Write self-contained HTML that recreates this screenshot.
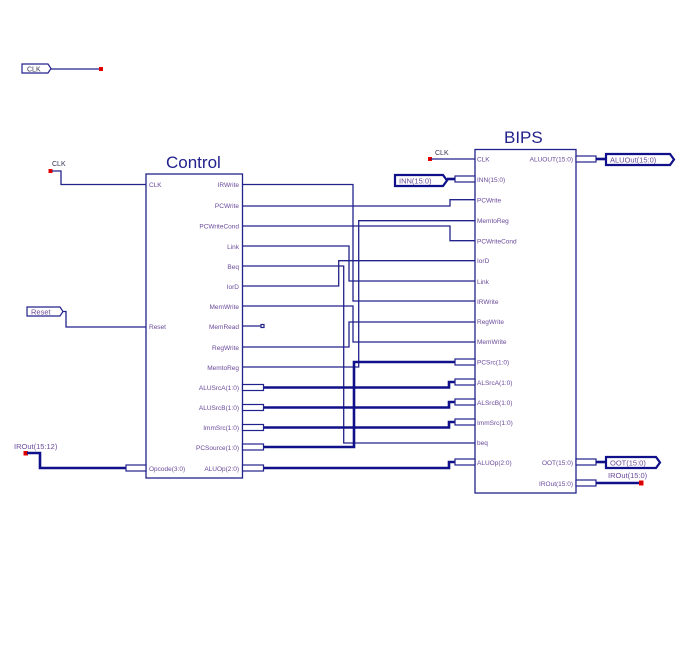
<!DOCTYPE html>
<html><head><style>
html,body{margin:0;padding:0;background:#fff;}
svg{display:block;}
text{font-family:"Liberation Sans",sans-serif;}
.p{font-size:6.5px;fill:#6a4a9a;}
.w{stroke:#22228c;stroke-width:1.3;fill:none;}
.b{stroke:#10108a;stroke-width:2.6;fill:none;}
.st{stroke:#22228c;stroke-width:1.2;fill:#fff;}
</style></head><body>
<svg width="692" height="651" viewBox="0 0 692 651" xmlns="http://www.w3.org/2000/svg">
<!-- top-left CLK -->
<path d="M22 64 H48 L51 68.5 L48 73 H22 Z" class="st" stroke-width="1.5"/>
<text x="27" y="71.5" class="p" style="font-size:7px;fill:#335">CLK</text>
<path d="M51 69 H101" class="w"/>
<rect x="99.5" y="67.5" width="3" height="3" fill="#c00" stroke="#e00" stroke-width="1"/>

<!-- Control -->
<text x="166" y="168" style="font-size:17px;fill:#22228c">Control</text>
<rect x="146" y="174" width="96.5" height="304" fill="#fff" stroke="#22228c" stroke-width="1.3"/>
<text x="149" y="187" class="p">CLK</text>
<text x="149" y="329" class="p">Reset</text>
<text x="149" y="471" class="p">Opcode(3:0)</text>
<g class="p" text-anchor="end">
<text x="239" y="187">IRWrite</text>
<text x="239" y="208">PCWrite</text>
<text x="239" y="228.5">PCWriteCond</text>
<text x="239" y="249">Link</text>
<text x="239" y="269">Beq</text>
<text x="239" y="289">IorD</text>
<text x="239" y="309">MemWrite</text>
<text x="239" y="329">MemRead</text>
<text x="239" y="350">RegWrite</text>
<text x="239" y="370">MemtoReg</text>
<text x="239" y="390">ALUSrcA(1:0)</text>
<text x="239" y="410">ALUSrcB(1:0)</text>
<text x="239" y="430">ImmSrc(1:0)</text>
<text x="239" y="450">PCSource(1:0)</text>
<text x="239" y="471">ALUOp(2:0)</text>
</g>

<!-- Control CLK -->
<text x="52" y="166" class="p" style="font-size:7px;fill:#335">CLK</text>
<rect x="49" y="169.5" width="3" height="3" fill="#c00" stroke="#e00" stroke-width="1"/>
<path d="M52 171 H61 V184.5 H146" class="w"/>
<!-- Reset -->
<path d="M27 307 H60 L63 311.5 L60 316 H27 Z" class="st" stroke-width="1.5"/>
<text x="31" y="314.5" class="p" style="font-size:7.5px;fill:#6a4a9a">Reset</text>
<path d="M63 311.5 H66 V327 H146" class="w"/>
<!-- IROut(15:12) -->
<text x="14" y="449" class="p" style="font-size:7.5px">IROut(15:12)</text>
<rect x="24" y="451.5" width="3.5" height="3.5" fill="#c00" stroke="#e00" stroke-width="1"/>
<path d="M27 453 H40 V468 H126" class="b"/>
<rect x="126" y="465" width="20" height="6" class="st"/>

<!-- Control output single wires -->
<path d="M242.5 184.5 H353 V301 H475" class="w"/>
<path d="M242.5 206 H450 V199.7 H475" class="w"/>
<path d="M242.5 226 H450 V240.7 H475" class="w"/>
<path d="M242.5 246 H349 V281 H475" class="w"/>
<path d="M242.5 266 H343.7 V443 H475" class="w"/>
<path d="M242.5 286 H338.7 V260.7 H475" class="w"/>
<path d="M242.5 306 H353 V342 H475" class="w"/>
<path d="M242.5 326 H263" class="w"/>
<rect x="261" y="324.5" width="3" height="3" fill="#fff" stroke="#22228c" stroke-width="1.2"/>
<path d="M242.5 347 H349 V322 H475" class="w"/>
<path d="M242.5 367 H358.7 V220.7 H475" class="w"/>
<!-- buses -->
<path d="M264 447 H354 V362 H455" class="b"/>
<path d="M264 387.5 H449 V382 H455" class="b"/>
<path d="M264 407.5 H449 V402 H455" class="b"/>
<path d="M264 427.5 H449 V422 H455" class="b"/>
<path d="M264 468 H449 V462 H455" class="b"/>
<g class="st">
<rect x="242.5" y="384.5" width="21" height="6"/>
<rect x="242.5" y="404.5" width="21" height="6"/>
<rect x="242.5" y="424.5" width="21" height="6"/>
<rect x="242.5" y="444" width="21" height="6"/>
<rect x="242.5" y="465" width="21" height="6"/>
</g>

<!-- BIPS -->
<text x="504" y="143" style="font-size:17px;fill:#22228c">BIPS</text>
<rect x="475" y="149.5" width="101" height="343.5" fill="#fff" stroke="#22228c" stroke-width="1.3"/>
<g class="p">
<text x="477" y="161.5">CLK</text>
<text x="477" y="182">INN(15:0)</text>
<text x="477" y="202.5">PCWrite</text>
<text x="477" y="223">MemtoReg</text>
<text x="477" y="243.5">PCWriteCond</text>
<text x="477" y="263">IorD</text>
<text x="477" y="284">Link</text>
<text x="477" y="304">IRWrite</text>
<text x="477" y="324">RegWrite</text>
<text x="477" y="344">MemWrite</text>
<text x="477" y="364.5">PCSrc(1:0)</text>
<text x="477" y="385">ALSrcA(1:0)</text>
<text x="477" y="405">ALSrcB(1:0)</text>
<text x="477" y="425">ImmSrc(1:0)</text>
<text x="477" y="445">beq</text>
<text x="477" y="465">ALUOp(2:0)</text>
</g>
<g class="p" text-anchor="end">
<text x="573" y="161.5">ALUOUT(15:0)</text>
<text x="573" y="465">OOT(15:0)</text>
<text x="573" y="486">IROut(15:0)</text>
</g>
<g class="st">
<rect x="455" y="176" width="20" height="6"/>
<rect x="455" y="359" width="20" height="6"/>
<rect x="455" y="379" width="20" height="6"/>
<rect x="455" y="399" width="20" height="6"/>
<rect x="455" y="419" width="20" height="6"/>
<rect x="455" y="459" width="20" height="6"/>
<rect x="576" y="156" width="20" height="6"/>
<rect x="576" y="459" width="20" height="6"/>
<rect x="576" y="480" width="20" height="6"/>
</g>
<!-- BIPS CLK -->
<text x="435" y="155" class="p" style="font-size:7px;fill:#335">CLK</text>
<rect x="428.5" y="157.5" width="3" height="3" fill="#c00" stroke="#e00" stroke-width="1"/>
<path d="M431 159 H475" class="w"/>
<!-- INN -->
<path d="M395 175 H443 L447 180.5 L443 186 H395 Z" fill="#fff" stroke="#10108a" stroke-width="2.2"/>
<text x="399" y="183.5" style="font-size:7.5px;fill:#6a4a9a">INN(15:0)</text>
<path d="M447 179 H455" class="b"/>
<!-- ALUOut -->
<path d="M596 159 H606" class="b"/>
<path d="M606 154 H670 L674 159.5 L670 165 H606 Z" fill="#fff" stroke="#10108a" stroke-width="2.2"/>
<text x="610" y="162.5" style="font-size:7.5px;fill:#6a4a9a">ALUOut(15:0)</text>
<!-- OOT -->
<path d="M596 462 H606" class="b"/>
<path d="M606 457 H656 L660 462.5 L656 468 H606 Z" fill="#fff" stroke="#10108a" stroke-width="2.2"/>
<text x="610" y="465.5" style="font-size:7.5px;fill:#6a4a9a">OOT(15:0)</text>
<!-- IROut -->
<path d="M596 483 H641" class="b"/>
<rect x="639.5" y="481" width="3.5" height="4" fill="#c00" stroke="#e00" stroke-width="1"/>
<text x="608" y="478" class="p" style="font-size:7.5px">IROut(15:0)</text>
</svg>
</body></html>
